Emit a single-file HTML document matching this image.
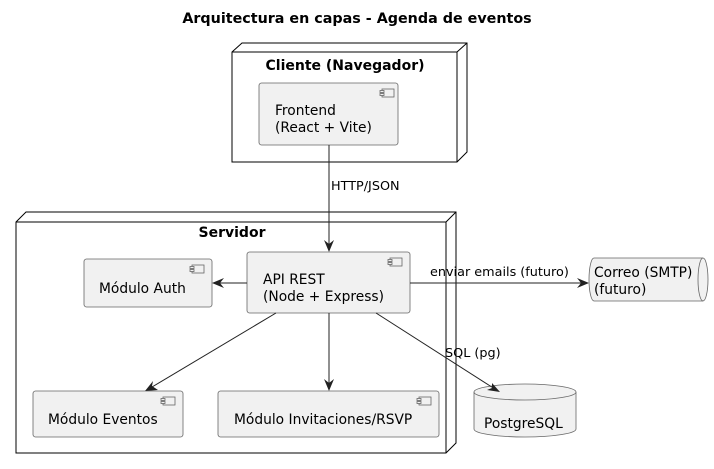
<!DOCTYPE html>
<html><head><meta charset="utf-8"><style>
html,body{margin:0;padding:0;background:#fff;}
svg{display:block;}
text{font-family:"DejaVu Sans","Liberation Sans",sans-serif;fill:#000;}
</style></head><body>
<svg width="714" height="469" viewBox="0 0 714 469" xmlns="http://www.w3.org/2000/svg">
<text x="357" y="23" font-size="14.3" font-weight="bold" text-anchor="middle">Arquitectura en capas - Agenda de eventos</text>

<g fill="#fff" stroke="#000" stroke-width="1">
<polygon points="232,52 242,43 467,43 467,152 457,162 232,162"/>
<line x1="232" y1="52" x2="457" y2="52"/><line x1="457" y1="52" x2="467" y2="43"/><line x1="457" y1="52" x2="457" y2="162"/>
</g>
<text x="345" y="70" font-size="14" font-weight="bold" text-anchor="middle">Cliente (Navegador)</text>

<g fill="#fff" stroke="#000" stroke-width="1">
<polygon points="16,222 26,212 456,212 456,443 446,453 16,453"/>
<line x1="16" y1="222" x2="446" y2="222"/><line x1="446" y1="222" x2="456" y2="212"/><line x1="446" y1="222" x2="446" y2="453"/>
</g>
<text x="232" y="237" font-size="14" font-weight="bold" text-anchor="middle">Servidor</text>

<g fill="#f1f1f1" stroke="#666" stroke-width="0.8">
<rect x="259" y="83" width="139" height="62" rx="2.5"/>
<rect x="247" y="252" width="163" height="61" rx="2.5"/>
<rect x="84" y="259" width="128" height="48" rx="2.5"/>
<rect x="33" y="391" width="150" height="46" rx="2.5"/>
<rect x="218" y="391" width="221" height="46" rx="2.5"/>
</g>
<g fill="#f1f1f1" stroke="#666" stroke-width="0.8">
<g transform="translate(380,89)"><rect x="2" y="0" width="12" height="8"/><rect x="0" y="1.5" width="4" height="2"/><rect x="0" y="4.5" width="4" height="2"/></g>
<g transform="translate(388,258)"><rect x="2" y="0" width="12" height="8"/><rect x="0" y="1.5" width="4" height="2"/><rect x="0" y="4.5" width="4" height="2"/></g>
<g transform="translate(190,265)"><rect x="2" y="0" width="12" height="8"/><rect x="0" y="1.5" width="4" height="2"/><rect x="0" y="4.5" width="4" height="2"/></g>
<g transform="translate(161,397)"><rect x="2" y="0" width="12" height="8"/><rect x="0" y="1.5" width="4" height="2"/><rect x="0" y="4.5" width="4" height="2"/></g>
<g transform="translate(417,397)"><rect x="2" y="0" width="12" height="8"/><rect x="0" y="1.5" width="4" height="2"/><rect x="0" y="4.5" width="4" height="2"/></g>
</g>
<g font-size="13.8">
<text x="275" y="115">Frontend</text><text x="275" y="132">(React + Vite)</text>
<text x="263" y="284">API REST</text><text x="263" y="301">(Node + Express)</text>
<text x="99" y="293">Módulo Auth</text>
<text x="48" y="424">Módulo Eventos</text>
<text x="234" y="424">Módulo Invitaciones/RSVP</text>
</g>

<path d="M594,258 L703,258 A5,21.5 0 0 1 703,301 L594,301 A5,21.5 0 0 1 594,258 Z" fill="#f1f1f1" stroke="#666" stroke-width="0.8"/>
<path d="M703,258 A5,21.5 0 0 0 703,301" fill="none" stroke="#666" stroke-width="0.8"/>
<text x="594" y="277" font-size="13.8">Correo (SMTP)</text>
<text x="594" y="294" font-size="13.8">(futuro)</text>

<path d="M474,392 A51,8 0 0 1 576,392 L576,429 A51,8 0 0 1 474,429 Z" fill="#f1f1f1" stroke="#666" stroke-width="0.8"/>
<path d="M474,392 A51,8 0 0 0 576,392" fill="none" stroke="#666" stroke-width="0.8"/>
<text x="484" y="428" font-size="13.8">PostgreSQL</text>

<g stroke="#222" stroke-width="1" fill="none">
<line x1="329" y1="145" x2="329" y2="250"/>
<line x1="247" y1="283" x2="214" y2="283"/>
<line x1="410" y1="283" x2="587" y2="283"/>
<line x1="276" y1="313" x2="147" y2="390"/>
<line x1="329" y1="313" x2="329" y2="389"/>
<line x1="376" y1="313" x2="498" y2="391"/>
</g>
<g fill="#222">
<polygon points="329,252 324,240 329,244 334,240"/>
<polygon points="212,283 224,278 220,283 224,288"/>
<polygon points="589,283 577,278 581,283 577,288"/>
<polygon points="145,391 153,381 152,386 158,390"/>
<polygon points="329,391 324,379 329,383 334,379"/>
<polygon points="500,392 487,390 492,388 492,383"/>
</g>
<g font-size="12.8">
<text x="331" y="190">HTTP/JSON</text>
<text x="430" y="276">enviar emails (futuro)</text>
<text x="445" y="357">SQL (pg)</text>
</g>
</svg>
</body></html>
